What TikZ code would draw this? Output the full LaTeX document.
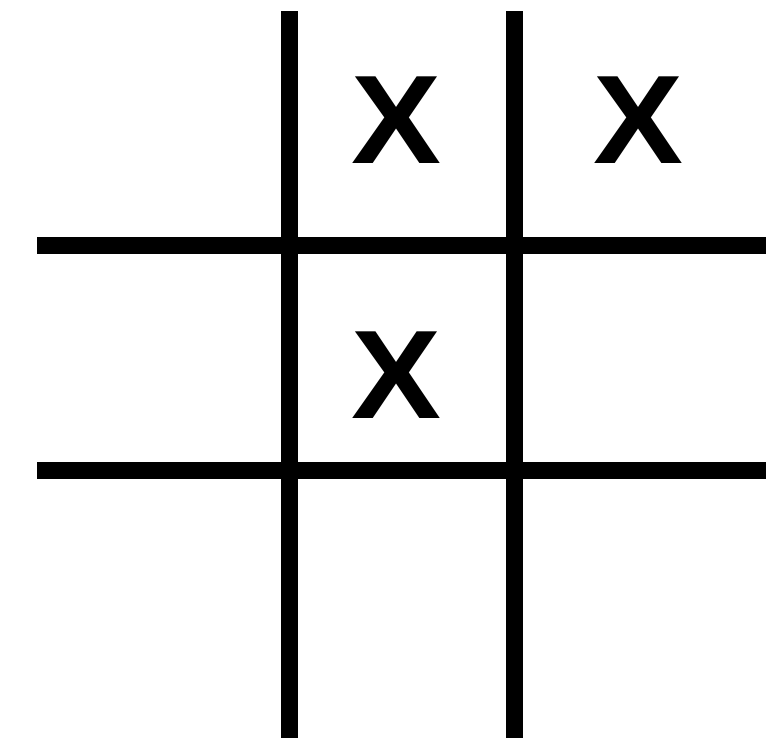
\documentclass[tikz,border=0pt]{standalone}
\usepackage{fontspec}
\setmainfont{Liberation Sans}
\usetikzlibrary{positioning}

\begin{document}
\begin{tikzpicture}[x=1pt, y=-1pt,
  bar/.style={draw=black, line width=17pt, line cap=butt},
  mark x/.style={inner sep=0pt, font=\fontsize{126}{126}\bfseries\selectfont,
              xscale=1.07, transform shape}]

  \useasboundingbox (0,0) rectangle (781,740);

  % grid
  \draw[bar] (289,11) -- (289,738);
  \draw[bar] (514,11) -- (514,738);
  \draw[bar] (37,245) -- (766,245);
  \draw[bar] (37,470) -- (766,470);

  % moves
  \node[mark x] (top mid)   at (396,120) {X};
  \node[mark x] (top right) at (638,120) {X};
  \node[mark x] (centre)    at (396,375) {X};
\end{tikzpicture}
\end{document}
